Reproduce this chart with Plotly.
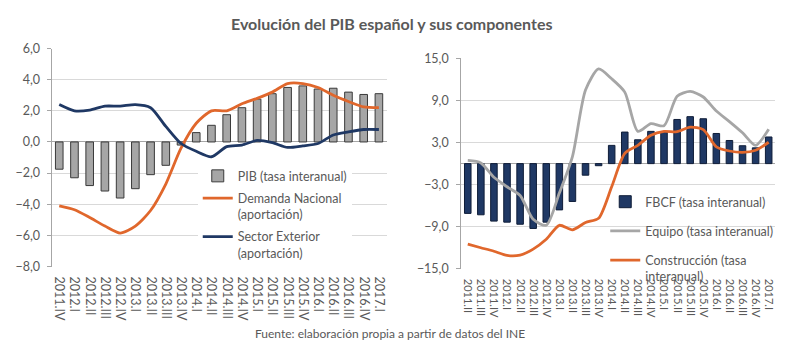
import plotly.graph_objects as go

W, H = 800, 354

# ---------------- data ----------------
left_cats = ["2011.IV", "2012.I", "2012.II", "2012.III", "2012.IV", "2013.I", "2013.II",
             "2013.III", "2013.IV", "2014.I", "2014.II", "2014.III", "2014.IV", "2015.I",
             "2015.II", "2015.III", "2015.IV", "2016.I", "2016.II", "2016.III", "2016.IV", "2017.I"]
pib = [-1.75, -2.3, -2.8, -3.15, -3.6, -3.0, -2.1, -1.5, -0.2, 0.6, 1.07, 1.75, 2.2,
       2.75, 3.1, 3.5, 3.6, 3.4, 3.45, 3.2, 3.05, 3.1]
demanda = [-4.1, -4.35, -4.85, -5.4, -5.85, -5.4, -4.4, -2.7, -0.4, 1.2, 2.0, 2.0, 2.45,
           2.8, 3.2, 3.75, 3.75, 3.5, 3.0, 2.6, 2.25, 2.2]
exterior = [2.4, 2.0, 2.05, 2.3, 2.3, 2.4, 2.2, 1.0, -0.1, -0.6, -0.95, -0.3, -0.2,
            0.1, -0.05, -0.35, -0.25, -0.1, 0.45, 0.65, 0.8, 0.8]

right_cats = ["2011.II", "2011.III", "2011.IV", "2012.I", "2012.II", "2012.III", "2012.IV",
              "2013.I", "2013.II", "2013.III", "2013.IV", "2014.I", "2014.II", "2014.III",
              "2014.IV", "2015.I", "2015.II", "2015.III", "2015.IV", "2016.I", "2016.II",
              "2016.III", "2016.IV", "2017.I"]
fbcf = [-7.1, -7.3, -8.2, -8.35, -8.65, -9.25, -8.35, -6.6, -5.4, -1.65, -0.3, 2.6,
        4.5, 3.4, 4.6, 4.5, 6.3, 6.7, 6.4, 4.3, 3.3, 2.55, 2.25, 3.8]
equipo = [0.45, 0.1, -1.95, -3.3, -4.55, -7.95, -8.8, -4.2, 1.0, 10.5, 13.5, 12.1,
          10.2, 4.6, 5.7, 5.4, 9.6, 10.3, 9.5, 7.5, 6.0, 4.4, 2.6, 4.9]
construccion = [-11.5, -12.0, -12.5, -13.1, -13.05, -12.2, -10.8, -8.8, -9.45, -8.4, -7.8,
                -3.3, 1.45, 2.6, 4.05, 4.6, 4.55, 5.2, 4.85, 2.4, 1.8, 1.6, 1.9, 3.05]

left_ticks = [6, 4, 2, 0, -2, -4, -6, -8]
right_ticks = [15, 9, 3, -3, -9, -15]

# ---------------- style ----------------
FONT = "Lato, 'Open Sans', sans-serif"
TXT = "#595959"
GRID = "#d9d9d9"
AXIS = "#a6a6a6"
ORANGE = "#e0672c"
NAVY = "#1f3864"
GRAY_LINE = "#a6a6a6"

def px_x(x):
    return x / W

def px_y(y):
    return 1 - y / H

fig = go.Figure()

fig.add_trace(go.Bar(x=left_cats, y=pib, name="PIB (tasa interanual)",
                     marker=dict(color="#a6a6a6", line=dict(color="#3a3a3a", width=1)),
                     xaxis="x", yaxis="y", legend="legend", legendgroup="a"))
fig.add_trace(go.Scatter(x=left_cats, y=demanda, name="Demanda Nacional<br>(aportación)",
                         mode="lines", line=dict(color=ORANGE, width=2.8, shape="spline", smoothing=0.7),
                         xaxis="x", yaxis="y", legend="legend", legendgroup="b"))
fig.add_trace(go.Scatter(x=left_cats, y=exterior, name="Sector Exterior<br>(aportación)",
                         mode="lines", line=dict(color=NAVY, width=2.8, shape="spline", smoothing=0.7),
                         xaxis="x", yaxis="y", legend="legend", legendgroup="c"))

fig.add_trace(go.Bar(x=right_cats, y=fbcf, name="FBCF (tasa interanual)",
                     marker=dict(color=NAVY, line=dict(color="#0f1d38", width=1)),
                     xaxis="x2", yaxis="y2", legend="legend2", legendgroup="d"))
fig.add_trace(go.Scatter(x=right_cats, y=equipo, name="Equipo (tasa interanual)",
                         mode="lines", line=dict(color=GRAY_LINE, width=2.8, shape="spline", smoothing=0.7),
                         xaxis="x2", yaxis="y2", legend="legend2", legendgroup="e"))
fig.add_trace(go.Scatter(x=right_cats, y=construccion, name="Construcción (tasa<br>interanual)",
                         mode="lines", line=dict(color=ORANGE, width=2.8, shape="spline", smoothing=0.7),
                         xaxis="x2", yaxis="y2", legend="legend2", legendgroup="f"))

xcommon = dict(type="category", tickangle=90, showgrid=False, showline=False, ticks="",
               zeroline=False)
ycommon = dict(showgrid=True, gridcolor=GRID, gridwidth=1, zeroline=True, zerolinecolor=AXIS,
               zerolinewidth=1, showline=True, linecolor=AXIS, linewidth=1, ticks="outside",
               ticklen=4, tickcolor=AXIS, tickformat=".1f",
               tickfont=dict(family=FONT, size=12.5, color=TXT))

fig.update_layout(
    width=W, height=H, margin=dict(l=0, r=0, t=0, b=0),
    paper_bgcolor="white", plot_bgcolor="white",
    separators=",.", bargap=0.5,
    font=dict(family=FONT, color=TXT),
    xaxis=dict(xcommon, domain=[px_x(51.7), px_x(387)], anchor="y", range=[-0.5, 21.5],
               tickmode="array", tickvals=left_cats, ticklabelstandoff=9,
               tickfont=dict(family=FONT, size=12.5, color=TXT)),
    yaxis=dict(ycommon, domain=[px_y(270), px_y(42.3)], anchor="x", range=[-8, 6],
               tickvals=left_ticks, ticklabelstandoff=4),
    xaxis2=dict(xcommon, domain=[px_x(461.8), px_x(776.2)], anchor="y2", range=[-0.5, 23.5],
                tickmode="array", tickvals=right_cats, ticklabelstandoff=9,
                tickfont=dict(family=FONT, size=11, color=TXT)),
    yaxis2=dict(ycommon, domain=[px_y(272.3), px_y(52.7)], anchor="x2", range=[-15, 15],
                tickvals=right_ticks, ticklabelstandoff=5),
    legend=dict(x=px_x(198), y=px_y(160), xanchor="left", yanchor="top", bgcolor="white",
                font=dict(family=FONT, size=12.5, color=TXT), tracegroupgap=3, itemwidth=30,
                valign="top"),
    legend2=dict(x=px_x(606), y=px_y(187), xanchor="left", yanchor="top",
                 bgcolor="rgba(255,255,255,0)",
                 font=dict(family=FONT, size=12.5, color=TXT), tracegroupgap=10, itemwidth=30,
                 valign="top"),
    showlegend=True,
    shapes=[
        dict(type="rect", xref="paper", yref="paper", layer="between",
             x0=px_x(607), x1=px_x(778), y0=px_y(274), y1=px_y(191),
             fillcolor="white", line=dict(width=0)),
    ],
    annotations=[
        dict(text="<b>Evolución del PIB español y sus componentes</b>", x=px_x(392), y=px_y(16),
             xref="paper", yref="paper", showarrow=False, xanchor="center", yanchor="middle",
             font=dict(family=FONT, size=16, color=TXT)),
        dict(text="Fuente: elaboración propia a partir de datos del INE", x=px_x(390), y=px_y(340),
             xref="paper", yref="paper", showarrow=False, xanchor="center", yanchor="middle",
             font=dict(family=FONT, size=12, color=TXT)),
    ],
)

fig.write_html("out.html")
